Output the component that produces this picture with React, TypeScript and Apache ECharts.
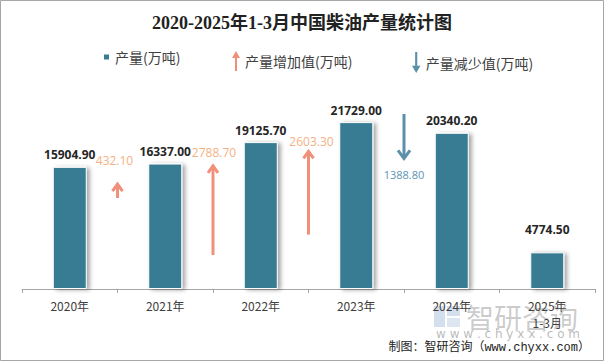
import React, { useEffect, useRef } from "react";
import * as echarts from "echarts";

const title = "2020-2025年1-3月中国柴油产量统计图";
const categories = ["2020年", "2021年", "2022年", "2023年", "2024年", "2025年\n1-3月"];
const production = [15904.9, 16337.0, 19125.7, 21729.0, 20340.2, 4774.5];
// changes between consecutive years (boundary index 1..4)
const changeBoundaries = [1, 2, 3, 4];
const changeValues = [432.1, 2788.7, 2603.3, -1388.8];
const seriesNames = ["产量(万吨)", "产量增加值(万吨)", "产量减少值(万吨)"];
const footer = "制图：智研咨询（www.chyxx.com）";

// layout only (arrow base on the hidden arrow scale, label offsets in px)
const arrowBase = [2844, 1062, 1700, 5469];
const labelDx = [-3, 1, 3, 0];
const labelDy = [-24, -13, -10, 16];

const BAR = "#377C93";
const UP = "#F0907A";
const UP_TXT = "#F5B183";
const DOWN = "#5A90A8";

export default function App() {
  const ref = useRef<HTMLDivElement>(null);
  useEffect(() => {
    document.body.style.margin = "0";
    const chart = echarts.init(ref.current!, undefined, { renderer: "svg" });

    const incData: any[] = [];
    const decData: any[] = [];
    changeValues.forEach((v, i) => {
      const row = [changeBoundaries[i], arrowBase[i], arrowBase[i] + v, i, Math.abs(v)];
      if (v >= 0) incData.push(row);
      else decData.push(row);
    });

    const makeRender = (color: string, txtColor: string, fontSize: number) =>
      (params: any, api: any) => {
        const x = api.value(0);
        const s = api.value(1);
        const e = api.value(2);
        const idx = api.value(3);
        const v = api.value(4);
        const p0 = api.coord([x, s]);
        const p1 = api.coord([x, e]);
        const dir = e > s ? 1 : -1;
        const hw = dir > 0 ? 5 : 6;
        const hh = dir > 0 ? 7 : 8;
        return {
          type: "group",
          children: [
            {
              type: "line",
              shape: { x1: p0[0], y1: p0[1], x2: p1[0], y2: p1[1] + dir * 2 },
              style: { stroke: color, lineWidth: 3 },
            },
            {
              type: "polyline",
              shape: {
                points: [
                  [p1[0] - hw, p1[1] + dir * hh],
                  [p1[0], p1[1]],
                  [p1[0] + hw, p1[1] + dir * hh],
                ],
              },
              style: { stroke: color, lineWidth: 3, fill: null },
            },
            {
              type: "text",
              x: p1[0] + labelDx[idx],
              y: p1[1] + labelDy[idx],
              style: {
                text: Number(v).toFixed(2),
                fill: txtColor,
                fontSize,
                fontFamily: "Open Sans, sans-serif",
                align: "center",
                verticalAlign: "middle",
              },
            },
          ],
        };
      };

    const upIcon = "path://M4,0 L8,7 L5,7 L5,20 L3,20 L3,7 L0,7 Z";
    const downIcon = "path://M3,0 L5,0 L5,13 L8,13 L4,20 L0,13 L3,13 Z";
    const legendText = { fontSize: 14, color: "#404040", fontFamily: "Noto Sans CJK SC, sans-serif" };

    chart.setOption({
      animation: false,
      title: {
        text: title,
        left: "center",
        top: 9,
        textStyle: {
          fontSize: 18,
          fontWeight: "bold",
          color: "#222",
          fontFamily: "Liberation Serif, Noto Sans CJK SC, serif",
        },
      },
      legend: [
        {
          data: [{ name: seriesNames[0], icon: "rect" }],
          left: 97, top: 45, itemWidth: 7, itemHeight: 7,
          selectedMode: false, textStyle: legendText,
        },
        {
          data: [{ name: seriesNames[1], icon: upIcon }],
          left: 227, top: 46, itemWidth: 8, itemHeight: 20,
          selectedMode: false, textStyle: legendText,
        },
        {
          data: [{ name: seriesNames[2], icon: downIcon }],
          left: 407, top: 47, itemWidth: 9, itemHeight: 21,
          selectedMode: false, textStyle: legendText,
        },
      ],
      grid: { left: 22, right: 9, top: 97, bottom: 72 },
      xAxis: [
        {
          type: "category",
          data: categories,
          axisLine: { lineStyle: { color: "#a6a6a6" } },
          axisTick: { show: true, length: 4, lineStyle: { color: "#a6a6a6" } },
          axisLabel: {
            fontSize: 12,
            color: "#404040",
            margin: 8,
            lineHeight: 17,
            fontFamily: "Noto Sans CJK SC, sans-serif",
          },
        },
        { type: "value", min: 0, max: 6, show: false },
      ],
      yAxis: [
        { type: "value", min: 0, max: 25000, show: false },
        { type: "value", min: 0, max: 6000, show: false },
      ],
      series: [
        {
          name: seriesNames[0],
          type: "bar",
          barWidth: 34,
          data: production.map((v, i) =>
            i === production.length - 1 ? { value: v, label: { distance: 17 } } : v
          ),
          itemStyle: {
            color: BAR,
            borderColor: "#fff",
            borderWidth: 1,
            shadowColor: "rgba(0,0,0,0.35)",
            shadowBlur: 4,
            shadowOffsetX: 3,
            shadowOffsetY: 1,
          },
          label: {
            show: true,
            position: "top",
            distance: 6,
            fontSize: 12,
            fontWeight: "bold",
            color: "#262626",
            fontFamily: "Open Sans, sans-serif",
            formatter: (p: any) => Number(p.value).toFixed(2),
          },
        },
        {
          name: seriesNames[1],
          type: "custom",
          xAxisIndex: 1,
          yAxisIndex: 1,
          clip: false,
          itemStyle: { color: UP },
          encode: { x: 0, y: [1, 2] },
          data: incData,
          renderItem: makeRender(UP, UP_TXT, 12),
        },
        {
          name: seriesNames[2],
          type: "custom",
          xAxisIndex: 1,
          yAxisIndex: 1,
          clip: false,
          itemStyle: { color: DOWN },
          encode: { x: 0, y: [1, 2] },
          data: decData,
          renderItem: makeRender(DOWN, "#5B93B2", 11),
        },
      ],
      graphic: [
        {
          type: "rect",
          shape: { x: 0.5, y: 0.5, width: 603, height: 360 },
          style: { fill: null, stroke: "#a6a6a6", lineWidth: 1 },
          silent: true,
        },
        {
          type: "group",
          z: 100,
          silent: true,
          children: [
            { type: "rect", shape: { x: 434, y: 306, width: 11, height: 21 }, style: { fill: "rgba(160,185,215,0.45)" } },
            { type: "rect", shape: { x: 447, y: 306, width: 13, height: 10 }, style: { fill: "rgba(160,185,215,0.45)" } },
            { type: "rect", shape: { x: 447, y: 318, width: 13, height: 9 }, style: { fill: "rgba(160,185,215,0.35)" } },
            {
              type: "text",
              x: 466,
              y: 317,
              style: {
                text: "智研咨询",
                fontSize: 28,
                fill: "rgba(140,140,140,0.45)",
                fontFamily: "Noto Sans CJK SC, sans-serif",
                verticalAlign: "middle",
              },
            },
            {
              type: "text",
              x: 436,
              y: 334,
              style: {
                text: "w w w . c h y x x . c o m",
                fontSize: 12,
                fill: "rgba(140,140,140,0.6)",
                fontFamily: "DejaVu Sans, sans-serif",
                verticalAlign: "middle",
              },
            },
          ],
        },
        {
          type: "text",
          right: 14,
          top: 342,
          z: 101,
          style: {
            text: footer,
            fontSize: 12,
            fill: "#222",
            fontFamily: "Liberation Mono, Noto Sans CJK SC, monospace",
          },
        },
      ],
    });
    return () => chart.dispose();
  }, []);
  return <div ref={ref} style={{ width: 604, height: 361 }} />;
}
